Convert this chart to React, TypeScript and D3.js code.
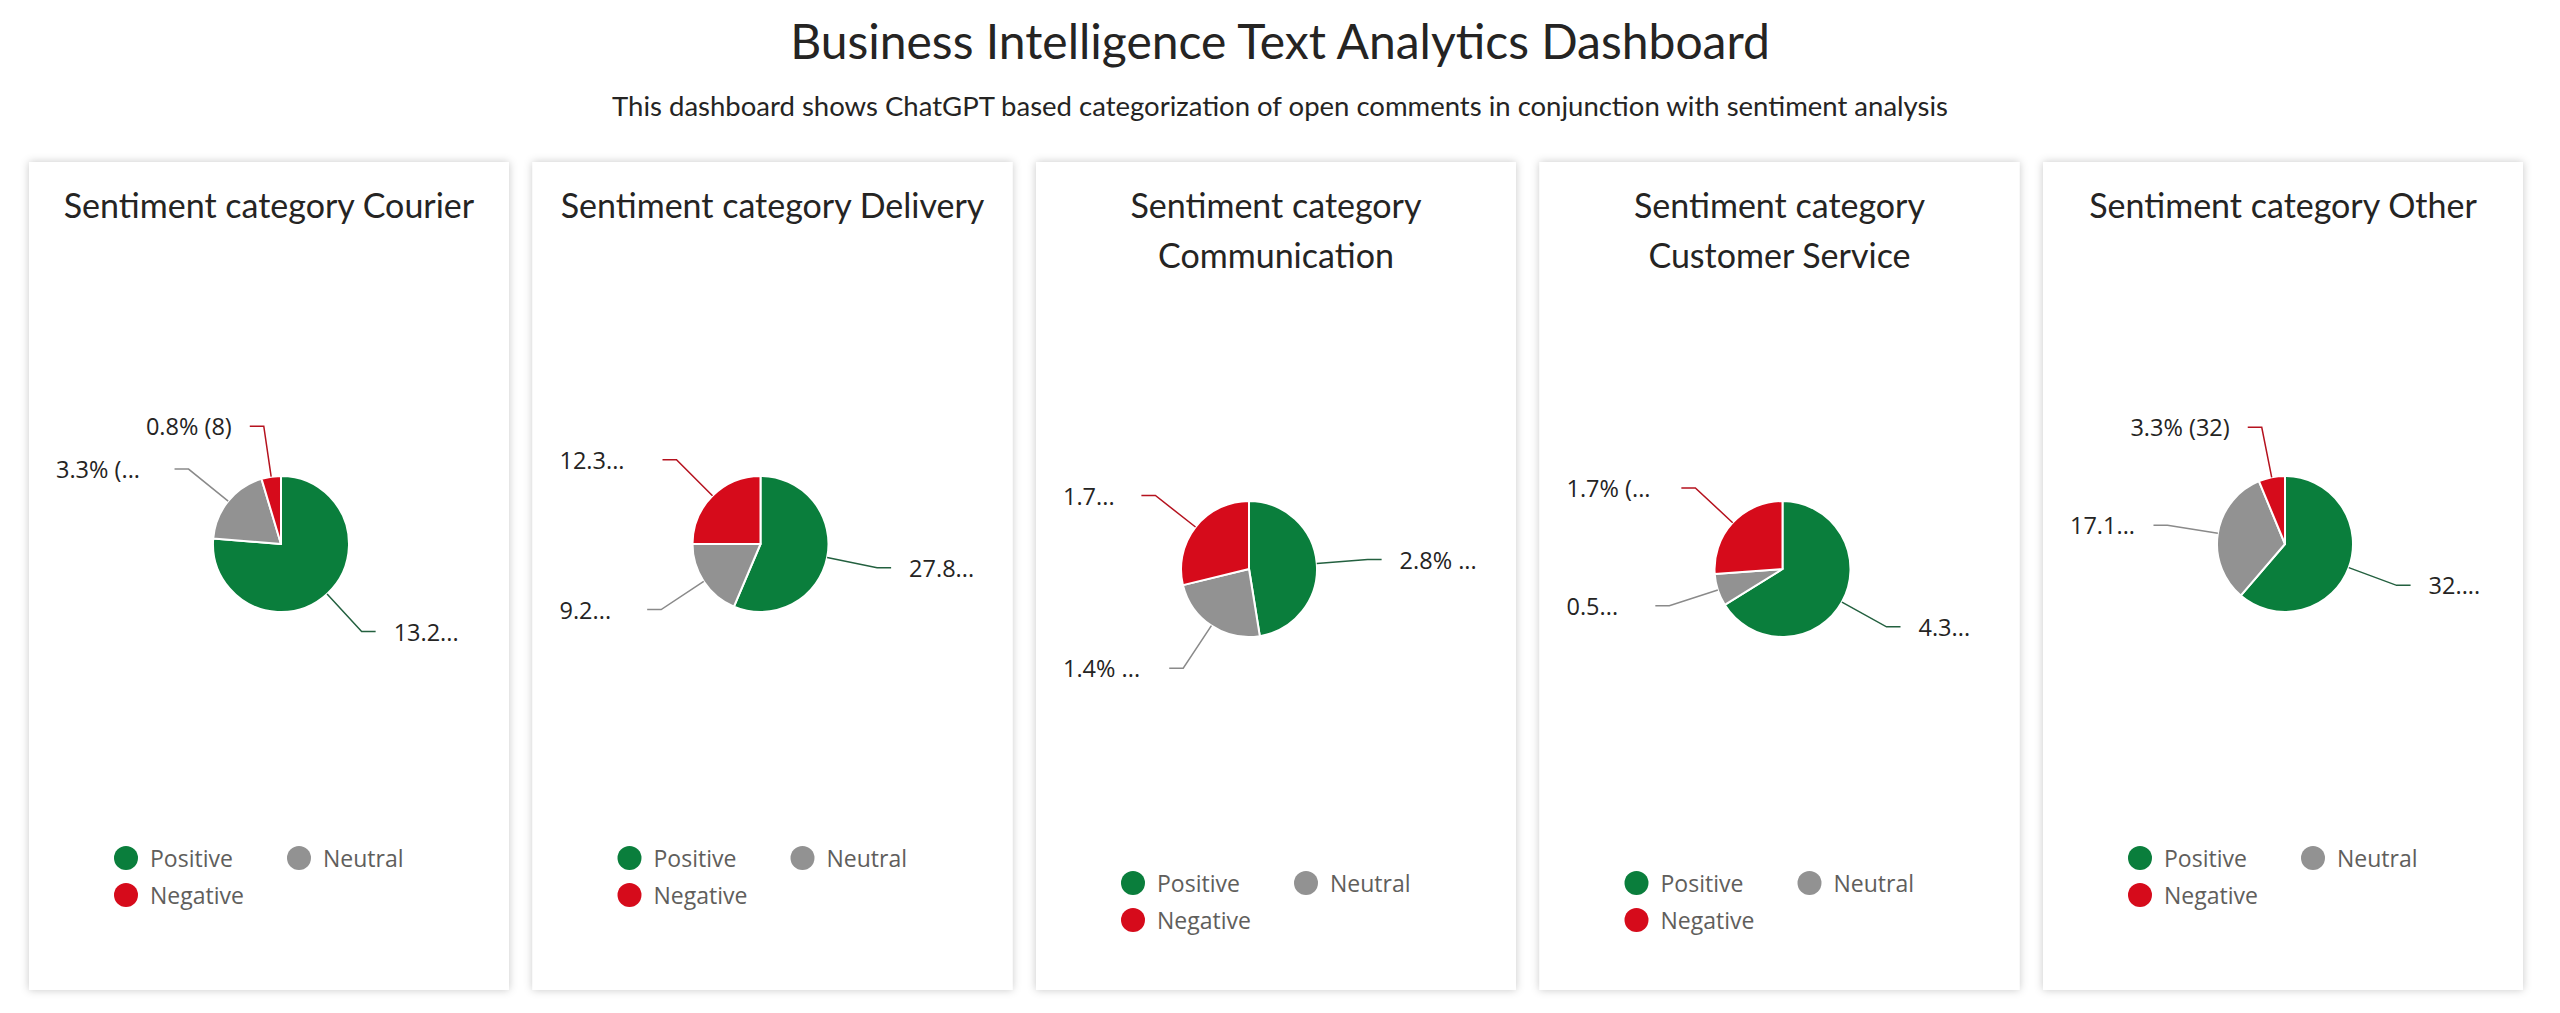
import * as d3 from "d3"

// Sentiment split per comment category (share of all comments, %) and comment counts
const categories = ["Courier", "Delivery", "Communication", "Customer Service", "Other"]
const sentiments = ["Positive", "Neutral", "Negative"]
const positivePct = [13.2, 27.8, 2.8, 4.3, 32.3]
const neutralPct = [3.3, 9.2, 1.4, 0.5, 17.1]
const negativePct = [0.8, 12.3, 1.7, 1.7, 3.3]
const positiveCount = [128, 270, 27, 42, 313]
const neutralCount = [32, 89, 14, 5, 166]
const negativeCount = [8, 119, 16, 16, 32]
// characters of each data label kept before the ellipsis (-1 = label fits)
const labelFit = [
  [4, 6, -1],
  [4, 3, 4],
  [5, 5, 3],
  [3, 3, 6],
  [3, 4, -1],
]

const colors = ["#0A7E3C", "#929292", "#D60B1B"]
const leaderColors = ["#23603F", "#8A8A8A", "#B5121E"]
const W = 2560
const H = 1013
const PANEL_W = 480
const PANEL_H = 828
const PANEL_TOP = 162
const R = 68
// horizontal nudge of each pie inside its card
const pieShift = [12, -12, -27, 3, 2]

const TITLE_FONT = "Lato, 'Open Sans', sans-serif"
const LABEL_FONT = "'Segoe UI', 'Open Sans', sans-serif"

let ctx: CanvasRenderingContext2D | null = null
function textWidth(text: string, font: string) {
  if (!ctx) ctx = document.createElement("canvas").getContext("2d")
  if (!ctx) return text.length * 16
  ctx.font = font
  return ctx.measureText(text).width
}

function wrap(text: string, font: string, maxWidth: number) {
  const words = text.split(" ")
  const lines: string[] = []
  let line = ""
  for (const w of words) {
    const next = line ? line + " " + w : w
    if (line && textWidth(next, font) > maxWidth) {
      lines.push(line)
      line = w
    } else {
      line = next
    }
  }
  if (line) lines.push(line)
  return lines
}

function PieCard({ index }: { index: number }) {
  const left = 29 + index * 503.5
  const cx0 = left + PANEL_W / 2
  const lines = wrap("Sentiment category " + categories[index], "34px Lato", 436)
  const shift = 25 * (lines.length - 1)
  const cx = cx0 + pieShift[index]
  const cy = PANEL_TOP + 382 + shift

  const values = [positivePct[index], neutralPct[index], negativePct[index]]
  const counts = [positiveCount[index], neutralCount[index], negativeCount[index]]
  const pie = d3.pie<number>().sort(null).value((d) => d)
  const arcs = pie(values)
  const arc = d3.arc<d3.PieArcDatum<number>>().innerRadius(0).outerRadius(R)

  const legendY = PANEL_TOP + 696 + shift
  const legendX = cx0 - 143

  return (
    <g>
      <rect x={left} y={PANEL_TOP} width={PANEL_W} height={PANEL_H} fill="#fff" filter="url(#cardShadow)" />
      {lines.map((l, i) => (
        <text
          key={i}
          x={cx0}
          y={PANEL_TOP + 56 + i * 50}
          textAnchor="middle"
          fontFamily={TITLE_FONT}
          fontSize={34}
          fill="#252423"
        >
          {l}
        </text>
      ))}

      <g transform={`translate(${cx},${cy})`}>
        {arcs.map((a, i) => (
          <path key={i} d={arc(a) || ""} fill={colors[i]} stroke="#fff" strokeWidth={2} strokeLinejoin="round" />
        ))}
      </g>

      {arcs.map((a, i) => {
        const mid = (a.startAngle + a.endAngle) / 2
        const sx = cx + R * Math.sin(mid)
        const sy = cy - R * Math.cos(mid)
        const ex = cx + R * 1.75 * Math.sin(mid)
        const ey = cy - R * 1.75 * Math.cos(mid)
        const right = Math.sin(mid) >= 0
        const hx = ex + (right ? 14 : -14)
        const full = `${values[i].toFixed(1)}% (${counts[i]})`
        const fit = labelFit[index][i]
        const text = fit < 0 ? full : full.slice(0, fit) + "..."
        let tx = hx + 18
        let anchor: "start" | "end" = "start"
        if (!right) {
          if (fit < 0) {
            tx = hx - 18
            anchor = "end"
          } else {
            tx = left + 27
          }
        }
        return (
          <g key={"l" + i}>
            <polyline
              points={`${sx},${sy} ${ex},${ey} ${hx},${ey}`}
              fill="none"
              stroke={leaderColors[i]}
              strokeWidth={1.5}
            />
            <text
              x={tx}
              y={ey}
              textAnchor={anchor}
              dominantBaseline="central"
              fontFamily={LABEL_FONT}
              fontSize={23.5}
              fill="#252423"
            >
              {text}
            </text>
          </g>
        )
      })}

      {sentiments.map((s, i) => {
        const col = i % 2
        const row = Math.floor(i / 2)
        const x = legendX + col * 173
        const y = legendY + row * 37
        return (
          <g key={s}>
            <circle cx={x} cy={y} r={12} fill={colors[i]} />
            <text
              x={x + 24}
              y={y}
              dominantBaseline="central"
              fontFamily={LABEL_FONT}
              fontSize={23}
              fill="#605E5C"
            >
              {s}
            </text>
          </g>
        )
      })}
    </g>
  )
}

export default function App() {
  return (
    <svg
      width={W}
      height={H}
      style={{ position: "absolute", left: 0, top: 0, background: "#fff" }}
    >
      <defs>
        <filter id="cardShadow" x="-5%" y="-5%" width="110%" height="110%">
          <feDropShadow dx={0} dy={0} stdDeviation={4} floodColor="#000" floodOpacity={0.22} />
        </filter>
      </defs>
      <rect width={W} height={H} fill="#fff" />
      <text x={W / 2} y={59} textAnchor="middle" fontFamily={TITLE_FONT} fontSize={48} fill="#252423">
        Business Intelligence Text Analytics Dashboard
      </text>
      <text x={W / 2} y={116} textAnchor="middle" fontFamily={TITLE_FONT} fontSize={27.5} fill="#252423">
        This dashboard shows ChatGPT based categorization of open comments in conjunction with sentiment analysis
      </text>
      {categories.map((c, i) => (
        <PieCard key={c} index={i} />
      ))}
    </svg>
  )
}
